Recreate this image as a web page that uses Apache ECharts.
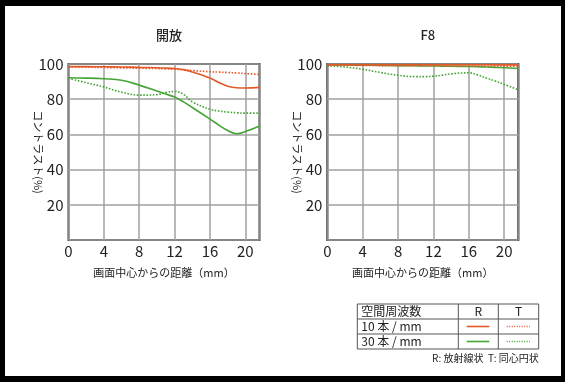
<!DOCTYPE html>
<html><head><meta charset="utf-8">
<script src="https://cdn.jsdelivr.net/npm/echarts@6/dist/echarts.min.js"></script>
<style>
html,body{margin:0;padding:0;background:#000;}
#bg{position:absolute;left:5px;top:6px;width:556px;height:370px;background:#fff;}
#chart{position:absolute;left:0;top:0;width:565px;height:382px;}
</style></head><body>
<div id="bg"></div><div id="chart"></div>
<script>
// ---- data ----
const positions = [0, 2, 4, 6, 8, 10, 11, 12, 13, 14, 16, 17, 18, 19, 20, 21.6];
const xTickValues = [0, 4, 8, 12, 16, 20];
const yTickValues = [20, 40, 60, 80, 100];
const panelTitles = ['開放', 'F8'];
const xAxisName = '画面中心からの距離（mm）';
const yAxisName = 'コントラスト(%)';

const openR10 = [98.5, 98.5, 98.4, 98.3, 98.1, 97.9, 97.7, 97.4, 96.8, 95.5, 92.0, 89.5, 87.4, 86.5, 86.4, 86.7];
const openT10 = [98.3, 98.2, 98.0, 97.8, 97.6, 97.4, 97.2, 97.0, 96.8, 96.3, 95.6, 95.4, 95.2, 94.9, 94.6, 94.0];
const openR30 = [92.2, 92.0, 91.6, 90.8, 88.0, 84.6, 82.9, 81.2, 78.5, 75.3, 68.7, 65.3, 62.2, 60.4, 61.6, 64.8];
const openT30 = [91.8, 89.4, 86.9, 84.0, 82.3, 82.6, 83.8, 84.4, 82.8, 78.5, 74.3, 73.3, 72.7, 72.3, 72.1, 72.1];

const f8R10 = [99.6, 99.6, 99.6, 99.6, 99.6, 99.6, 99.6, 99.6, 99.6, 99.6, 99.6, 99.6, 99.6, 99.5, 99.5, 99.5];
const f8T10 = [99.4, 99.3, 99.2, 99.1, 99.0, 99.0, 99.0, 99.0, 99.0, 98.9, 98.9, 98.9, 98.9, 98.9, 98.8, 98.8];
const f8R30 = [99.5, 99.4, 99.3, 99.2, 99.1, 99.0, 98.9, 98.9, 98.8, 98.7, 98.6, 98.5, 98.3, 98.1, 97.9, 97.4];
const f8T30 = [99.0, 98.3, 97.0, 95.2, 93.6, 92.8, 92.8, 93.1, 93.6, 94.4, 95.0, 93.8, 92.0, 90.3, 88.4, 85.4];

const legendHeader = ['空間周波数', 'R', 'T'];
const legendRows = ['10 本 / mm', '30 本 / mm'];
const footnote = 'R: 放射線状  T: 同心円状';

// ---- styling ----
const FONT = 'Noto Sans CJK JP';
const ORANGE = '#e25a2a';
const GREEN = '#45a535';
const pair = (ys) => positions.map((x, i) => [x, ys[i]]);

const panels = [
  { title: panelTitles[0], left: 68.5, series: [openR10, openT10, openR30, openT30] },
  { title: panelTitles[1], left: 327.3, series: [f8R10, f8T10, f8R30, f8T30] }
];
const styles = [
  { color: ORANGE, type: 'solid', width: 1.6 },
  { color: ORANGE, type: 'dotted', width: 1.6 },
  { color: GREEN, type: 'solid', width: 1.6 },
  { color: GREEN, type: 'dotted', width: 1.6 }
];

const grids = [], xAxes = [], yAxes = [], series = [], titles = [];
panels.forEach((p, gi) => {
  grids.push({ left: p.left, top: 64, width: 191, height: 176, show: true,
    borderColor: '#3a3a3a', borderWidth: 2, backgroundColor: 'transparent' });
  titles.push({ text: p.title, left: p.left + 95.5, top: 24, textAlign: 'center',
    textStyle: { fontFamily: FONT, fontSize: 13, fontWeight: 500, color: '#222' } });
  xAxes.push({ type: 'value', gridIndex: gi, min: 0, max: 21.6, interval: 4,
    name: xAxisName, nameLocation: 'middle', nameGap: 27, nameMoveOverlap: false,
    nameTextStyle: { fontFamily: FONT, fontSize: 11, color: '#222' },
    axisLine: { show: false }, axisTick: { show: false },
    axisLabel: { margin: 4, fontFamily: FONT, fontSize: 15, color: '#222',
      showMaxLabel: false,
      formatter: v => xTickValues.includes(v) ? String(v) : '' },
    splitLine: { show: true, lineStyle: { color: '#a0a0a0', width: 1.5 } } });
  yAxes.push({ type: 'value', gridIndex: gi, min: 0, max: 100, interval: 20,
    name: yAxisName, nameLocation: 'middle', nameGap: 25, nameRotate: -90, nameMoveOverlap: false,
    nameTextStyle: { fontFamily: FONT, fontSize: 11, color: '#222' },
    axisLine: { show: false }, axisTick: { show: false },
    axisLabel: { margin: 5, fontFamily: FONT, fontSize: 15, color: '#222',
      formatter: v => yTickValues.includes(v) ? String(v) : '' },
    splitLine: { show: true, lineStyle: { color: '#a0a0a0', width: 1.5 } } });
  p.series.forEach((ys, si) => {
    series.push({ type: 'line', xAxisIndex: gi, yAxisIndex: gi, data: pair(ys),
      smooth: 0.4, symbol: 'none', lineStyle: styles[si], z: 3 + (si < 2 ? 1 : 0) });
  });
});

// legend table (decoration)
const tx0 = 357.3, tx1 = 538.7, ty0 = 304, rowH = 15, c1 = 458.3, c2 = 498.3;
const tStroke = { stroke: '#555', lineWidth: 1 };
const g = [];
g.push({ type: 'rect', shape: { x: tx0, y: ty0, width: tx1 - tx0, height: rowH * 3 }, style: { fill: 'none', ...tStroke } });
[1, 2].forEach(r => g.push({ type: 'line', shape: { x1: tx0, y1: ty0 + r * rowH, x2: tx1, y2: ty0 + r * rowH }, style: tStroke }));
[c1, c2].forEach(c => g.push({ type: 'line', shape: { x1: c, y1: ty0, x2: c, y2: ty0 + rowH * 3 }, style: tStroke }));
const txt = (text, x, y, align, size) => ({ type: 'text', x, y,
  style: { text, fill: '#222', font: `${size}px "${FONT}"`, textAlign: align, textVerticalAlign: 'middle' } });
g.push(txt(legendHeader[0], tx0 + 4, ty0 + rowH / 2, 'left', 12));
g.push(txt(legendHeader[1], (c1 + c2) / 2, ty0 + rowH / 2, 'center', 12));
g.push(txt(legendHeader[2], (c2 + tx1) / 2, ty0 + rowH / 2, 'center', 12));
legendRows.forEach((r, i) => {
  const yy = ty0 + rowH * (i + 1) + rowH / 2;
  const col = i === 0 ? ORANGE : GREEN;
  g.push(txt(r, tx0 + 4, yy, 'left', 12));
  g.push({ type: 'line', shape: { x1: 466.7, y1: yy, x2: 489.3, y2: yy }, style: { stroke: col, lineWidth: 1.6 } });
  g.push({ type: 'line', shape: { x1: 506.7, y1: yy, x2: 530, y2: yy }, style: { stroke: col, lineWidth: 1.4, lineDash: [1, 1.5] } });
});
g.push(txt(footnote, tx1, 358, 'right', 10));

const chart = echarts.init(document.getElementById('chart'), null, { renderer: 'canvas' });
chart.setOption({
  animation: false,
  backgroundColor: 'transparent',
  title: titles,
  grid: grids,
  xAxis: xAxes,
  yAxis: yAxes,
  series: series,
  graphic: g
});
</script>
</body></html>
